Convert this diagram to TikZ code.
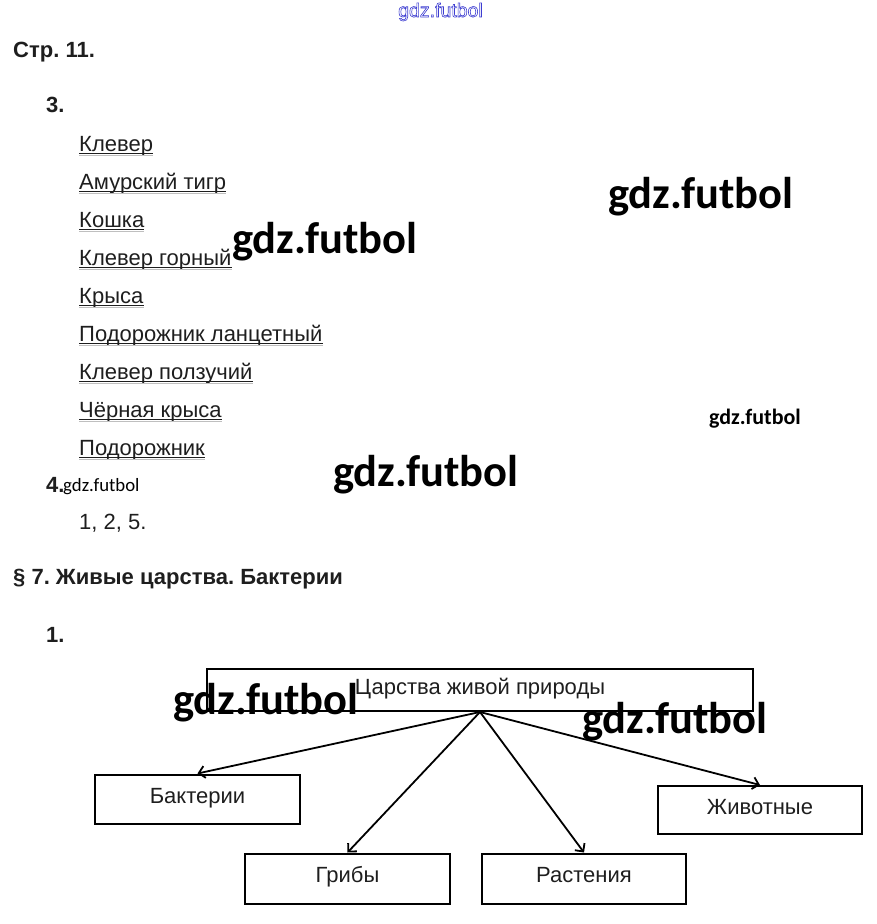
\documentclass[tikz,border=0pt]{standalone}
\usepackage{fontspec}
\setmainfont{Liberation Sans}
\newfontfamily\wmfont{Carlito}
\usetikzlibrary{arrows.meta}
\frenchspacing
\definecolor{inkgrey}{HTML}{1E1E1E}
\definecolor{wmblue}{HTML}{3C3CD2}
\def\hollow#1{\special{pdf:literal q 1 Tr 0.6 w 0.24 0.24 0.82 RG}#1\special{pdf:literal Q}}
\tikzset{
	txt/.style={anchor=base west, inner sep=0pt, text=inkgrey, font=\fontsize{22}{26}\selectfont},
	head/.style={anchor=base west, inner sep=0pt, text=inkgrey, font=\bfseries\fontsize{22}{26}\selectfont},
	wm/.style={anchor=base west, inner sep=0pt, font=\wmfont\bfseries\fontsize{44.5}{50}\selectfont},
	box/.style={draw, line width=2pt, inner sep=0pt, text height=15.5pt, text depth=7pt, text=inkgrey, font=\fontsize{22}{26}\selectfont},
	kid/.style={-{Straight Barb[length=6pt,width=12pt]}, line width=1.8pt},
}
\begin{document}
\begin{tikzpicture}[x=1pt, y=-1pt]
			%%%%% START %%%%%
			\useasboundingbox (0, 0) rectangle (876, 924);
			
			\node[wm, font=\fontsize{19.5}{22}\selectfont, text=wmblue] (wmtop) at (398, 17) {\hollow{gdz.futbol}};
			
			\node[head] (page) at (13, 57) {Стр. 11.};
			\node[head] (task3) at (46, 112) {3.};
			
			\foreach \t [count=\i] in {Клевер, Амурский тигр, Кошка, Клевер горный, Крыса, Подорожник ланцетный, Клевер ползучий, Чёрная крыса, Подорожник}{
				\node[txt] (item\i) at (79, {113+38*\i}) {\t};
				\draw[inkgrey, line width=1pt] ([yshift=-2pt]item\i.base west) -- ([yshift=-2pt]item\i.base east);
				\draw[gray!50, line width=1pt] ([yshift=-4pt]item\i.base west) -- ([yshift=-4pt]item\i.base east);
			}
			
			\node[head] (task4) at (46, 492) {4.};
			\node[txt] (answer4) at (79, 529) {1, 2, 5.};
			
			\node[head] (section) at (13, 584) {§ 7. Живые царства. Бактерии};
			\node[head] (task1) at (46, 642) {1.};
			
			% realms
			\node[box, minimum width=546pt, minimum height=42pt] (realms) at (480, 690) {Царства живой природы};
			\node[box, minimum width=205pt, minimum height=49pt] (bact) at (197.5, 799) {Бактерии};
			\node[box, minimum width=205pt, minimum height=50pt] (fungi) at (347.5, 878.5) {Грибы};
			\node[box, minimum width=204pt, minimum height=50pt] (plants) at (584, 878.5) {Растения};
			\node[box, minimum width=204pt, minimum height=48pt] (animals) at (760, 810) {Животные};
			
			\draw[kid] (realms.south) -- (bact.north);
			\draw[kid] (realms.south) -- (fungi.north);
			\draw[kid] (realms.south) -- (plants.north);
			\draw[kid] (realms.south) -- (animals.north);
			
			% marks
			\node[wm] (wma) at (608, 208) {gdz.futbol};
			\node[wm] (wmb) at (232, 253) {gdz.futbol};
			\node[wm, font=\wmfont\bfseries\fontsize{22}{26}\selectfont] (wmc) at (709, 424) {gdz.futbol};
			\node[wm] (wmd) at (333, 486) {gdz.futbol};
			\node[wm, font=\wmfont\fontsize{18.8}{22}\selectfont] (wme) at (63, 491) {gdz.futbol};
			\node[wm] (wmf) at (173, 714) {gdz.futbol};
			\node[wm] (wmg) at (582, 733) {gdz.futbol};
			%%%%% END %%%%%
\end{tikzpicture}
\end{document}
